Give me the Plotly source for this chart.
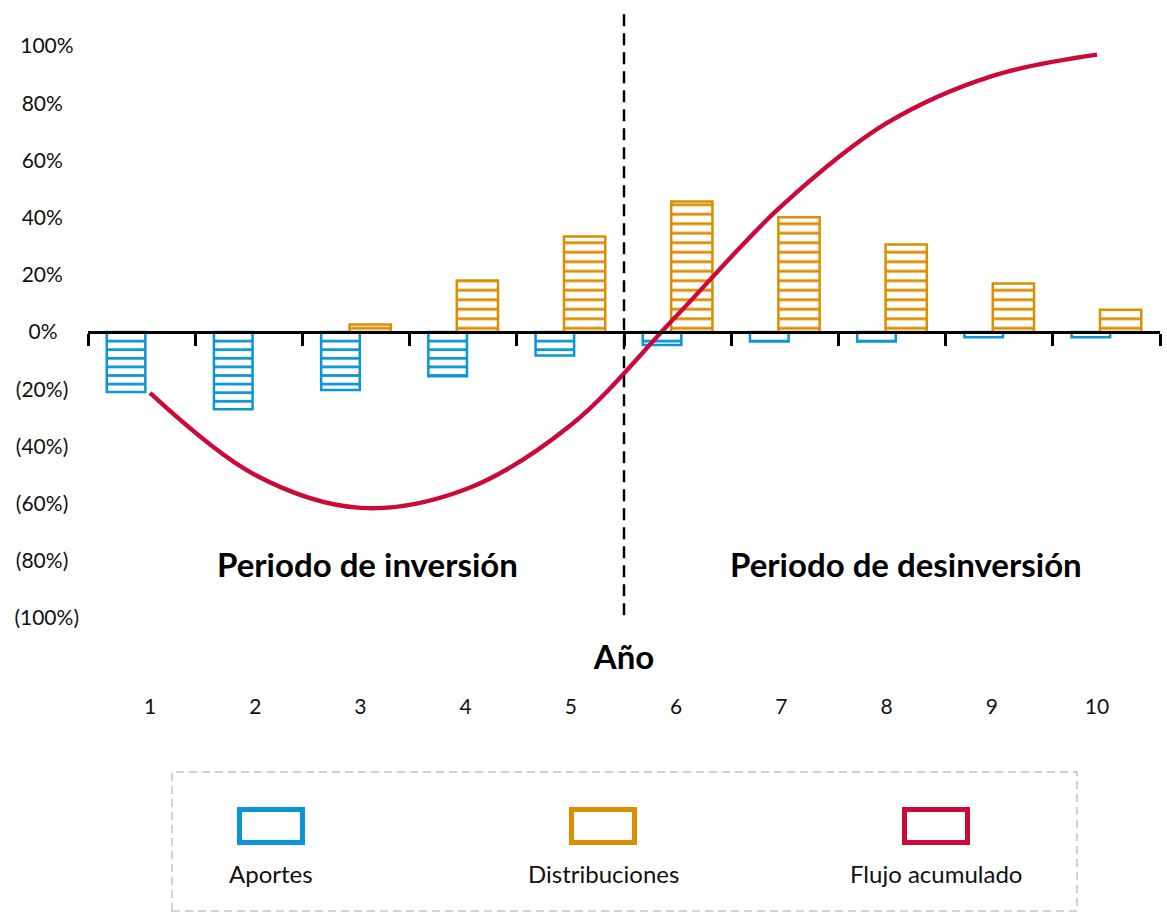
import plotly.graph_objects as go

# ---- data -------------------------------------------------------------
years = [1, 2, 3, 4, 5, 6, 7, 8, 9, 10]
aportes = [-21, -27, -20.3, -15.5, -8.2, -4.5, -3.3, -3.3, -1.8, -1.8]
distribuciones = [None, None, 2.6, 18, 33.4, 45.6, 40.1, 30.6, 17, 7.8]
flujo_acumulado = [-21.3, -50, -61.5, -55, -32.5, 5.5, 44, 73, 89.5, 97]

y_tickvals = [100, 80, 60, 40, 20, 0, -20, -40, -60, -80, -100]
y_ticktext = ["100%", "80%", "60%", "40%", "20%", "0%",
              "(20%)", "(40%)", "(60%)", "(80%)", "(100%)"]
x_ticktext = [str(y) for y in years]

periodos = ["Periodo de inversión", "Periodo de desinversión"]
series_names = ["Aportes", "Distribuciones", "Flujo acumulado"]

# ---- styling ----------------------------------------------------------
BLUE = "#0A96D6"
ORANGE = "#DA8E00"
RED = "#CC0A3A"
FONT = "Lato"
YTICK_SIZE = 21

W, H = 1167, 920
ML, MR, MT, MB = 88, 7, 10, 10
PLOT_W = W - ML - MR
PLOT_H = H - MT - MB


def px_x(px):
    """pixel column -> paper x"""
    return (px - ML) / PLOT_W


def px_y(py):
    """pixel row -> paper y"""
    return (H - MB - py) / PLOT_H


def centered_label(text, widest):
    """Pad a right-aligned tick label with trailing spaces so that the
    column of labels reads as centred."""
    em = {"(": 0.28, ")": 0.28, "%": 0.83, " ": 0.193}

    def width(s):
        return sum(em.get(c, 0.58) for c in s)

    gap = (width(widest) - width(text)) / 2
    return text + " " * int(round(gap / em[" "]))


Y_RANGE = [-107.69, 112.59]
Y_DOMAIN = [px_y(640), 1.0]

fig = go.Figure()

fig.add_trace(go.Bar(
    x=years, y=aportes, name=series_names[0],
    width=0.36, offset=-0.325,
    marker=dict(
        color="white",
        line=dict(color=BLUE, width=2.5),
        pattern=dict(shape="-", fgcolor=BLUE, bgcolor="white",
                     size=8.6, solidity=0.32, fillmode="replace"),
    ),
    xaxis="x", yaxis="y",
))

fig.add_trace(go.Bar(
    x=years, y=distribuciones, name=series_names[1],
    width=0.385, offset=-0.06,
    marker=dict(
        color="white",
        line=dict(color=ORANGE, width=2.5),
        pattern=dict(shape="-", fgcolor=ORANGE, bgcolor="white",
                     size=9.5, solidity=0.3, fillmode="replace"),
    ),
    xaxis="x", yaxis="y",
))

fig.add_trace(go.Scatter(
    x=years, y=flujo_acumulado, name=series_names[2],
    mode="lines", line=dict(color=RED, width=4.4, shape="spline", smoothing=1.0),
    xaxis="x2", yaxis="y",
))

# vertical divider between the two periods
fig.add_shape(type="line", xref="x", yref="y", x0=5.5, x1=5.5, y0=-99, y1=111.2,
              line=dict(color="black", width=2.5, dash="12px,7px"))

# period labels
for label, xc in zip(periodos, [3.11, 8.13]):
    fig.add_annotation(x=xc, y=-81, xref="x", yref="y", text=label,
                       xanchor="center", yanchor="middle", showarrow=False,
                       font=dict(family=FONT, size=33, color="black", weight="bold"))

# ---- legend box drawn below the chart ---------------------------------
fig.add_shape(type="rect", xref="paper", yref="paper",
              x0=px_x(172), x1=px_x(1077), y0=px_y(911), y1=px_y(772),
              line=dict(color="#C4C4C4", width=1.5, dash="8px,5px"))
legend_colors = [BLUE, ORANGE, RED]
legend_centers = [271, 603, 936]
for name, col, cx in zip(series_names, legend_colors, legend_centers):
    fig.add_shape(type="rect", xref="paper", yref="paper",
                  x0=px_x(cx - 31.5), x1=px_x(cx + 31.5),
                  y0=px_y(842.5), y1=px_y(809.5),
                  line=dict(color=col, width=5), fillcolor="white")
    fig.add_annotation(x=px_x(cx), y=px_y(873), xref="paper", yref="paper",
                       text=name, showarrow=False,
                       xanchor="center", yanchor="middle",
                       font=dict(family=FONT, size=24, color="#111111"))

fig.update_layout(
    width=W, height=H,
    margin=dict(l=ML, r=MR, t=MT, b=MB, autoexpand=False),
    paper_bgcolor="white", plot_bgcolor="rgba(0,0,0,0)",
    showlegend=False, barmode="overlay",
    font=dict(family=FONT, color="black"),
    # category axis sitting on the zero line, ticks between years
    xaxis=dict(
        domain=[0, 1], range=[0.5, 10.5],
        anchor="free", position=px_y(332),
        showline=True, linecolor="black", linewidth=2.5,
        ticks="outside", ticklen=12, tickwidth=2.5, tickcolor="black",
        tickvals=[i + 0.5 for i in range(0, 11)],
        showticklabels=False, showgrid=False, zeroline=False,
    ),
    # year labels and title under the chart
    xaxis2=dict(
        domain=[0, 1], range=[0.4108, 10.5987],
        overlaying="x", anchor="free", position=px_y(718), side="top",
        tickvals=years, ticktext=x_ticktext, ticks="",
        tickfont=dict(family=FONT, size=21, color="#111111"),
        showline=False, showgrid=False, zeroline=False,
        title=dict(text="Año", font=dict(family=FONT, size=33, color="black", weight="bold"),
                   standoff=12),
    ),
    yaxis=dict(
        domain=Y_DOMAIN, range=Y_RANGE,
        tickvals=y_tickvals,
        ticktext=[centered_label(t, "(100%)") for t in y_ticktext],
        ticks="",
        tickfont=dict(family=FONT, size=YTICK_SIZE, color="#111111"),
        ticklabelstandoff=8,
        showline=False, showgrid=False, zeroline=False,
    ),
)

fig.write_html("out.html")
